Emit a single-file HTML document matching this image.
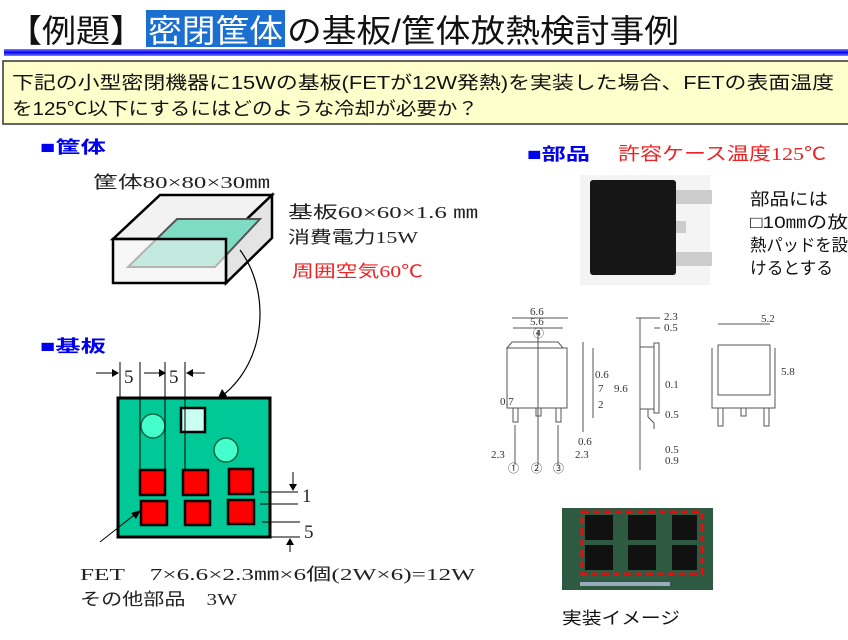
<!DOCTYPE html>
<html><head><meta charset="utf-8"><style>
html,body{margin:0;padding:0;background:#fff;}
svg{display:block;}
text{font-family:"Liberation Serif","Noto Sans CJK JP",serif;}
.g{font-family:"Liberation Sans","Noto Sans CJK JP",sans-serif;}
</style></head><body>
<svg width="848" height="640" viewBox="0 0 848 640" xmlns="http://www.w3.org/2000/svg">
<defs><linearGradient id="bl" x1="0" y1="0" x2="0" y2="1"><stop offset="0" stop-color="#8080ff"/><stop offset="0.5" stop-color="#0000ee"/><stop offset="1" stop-color="#8080ff"/></linearGradient></defs>
<!-- title -->
<rect x="146" y="10" width="139" height="37" fill="#1a6fd0"/>
<text x="8" y="42" class="g" font-size="32" fill="#111" textLength="136" lengthAdjust="spacingAndGlyphs">【例題】</text>
<text x="148" y="42" class="g" font-size="32" fill="#fff" textLength="135" lengthAdjust="spacingAndGlyphs">密閉筐体</text>
<text x="287" y="42" class="g" font-size="32" fill="#111" textLength="392" lengthAdjust="spacingAndGlyphs">の基板/筐体放熱検討事例</text>
<rect x="4" y="49" width="844" height="7" fill="url(#bl)"/>
<!-- question -->
<rect x="3" y="61" width="850" height="63" fill="#ffffcc" stroke="#333" stroke-width="1.5"/>
<text x="12" y="89" class="g" font-size="18" fill="#111" textLength="822" lengthAdjust="spacingAndGlyphs">下記の小型密閉機器に15Wの基板(FETが12W発熱)を実装した場合、FETの表面温度</text>
<text x="12" y="115" class="g" font-size="18" fill="#111" textLength="466" lengthAdjust="spacingAndGlyphs">を125℃以下にするにはどのような冷却が必要か？</text>
<!-- casing -->
<text x="40" y="153" class="g" font-size="17" font-weight="bold" fill="#0000ee" textLength="66" lengthAdjust="spacingAndGlyphs">■筐体</text>
<text x="93" y="188" font-size="17" fill="#222" textLength="177" lengthAdjust="spacingAndGlyphs">筐体80×80×30㎜</text>
<polygon points="113,239 160,195 272,195 226,239" fill="#f2f2f2" stroke="#000" stroke-width="2.5"/>
<polygon points="226,239 272,195 272,238 226,283" fill="#e4e4e4" stroke="#000" stroke-width="2.5"/>
<polygon points="128,267 177,219 260,219 215,267" fill="#7fdcc4" stroke="#555" stroke-width="2"/>
<rect x="113" y="239" width="113" height="44" fill="#f2f2f2" fill-opacity="0.6" stroke="#000" stroke-width="2.5"/>
<text x="288" y="218" font-size="17" fill="#222" textLength="190" lengthAdjust="spacingAndGlyphs">基板60×60×1.6 ㎜</text>
<text x="288" y="243" font-size="17" fill="#222" textLength="130" lengthAdjust="spacingAndGlyphs">消費電力15W</text>
<text x="292" y="277" font-size="17" fill="#ee2222" textLength="131" lengthAdjust="spacingAndGlyphs">周囲空気60℃</text>
<path d="M240,250 C270,290 268,360 222,396" fill="none" stroke="#000" stroke-width="1.2"/>
<polygon points="217,400 222,389 227,396" fill="#000"/>
<!-- pcb -->
<text x="40" y="352" class="g" font-size="17" font-weight="bold" fill="#0000ee" textLength="66" lengthAdjust="spacingAndGlyphs">■基板</text>
<rect x="118" y="398" width="152" height="139" fill="#00c896" stroke="#000" stroke-width="3"/>
<circle cx="153" cy="426" r="12" fill="#44ffcc" stroke="#116644" stroke-width="1.5"/>
<circle cx="226" cy="450" r="12" fill="#44ffcc" stroke="#116644" stroke-width="1.5"/>
<rect x="181" y="408" width="24" height="24" fill="#c8fff0" stroke="#000" stroke-width="2.5"/>
<g fill="#ff0000" stroke="#000" stroke-width="2.5">
<rect x="140" y="470" width="25" height="25"/><rect x="183" y="470" width="25" height="25"/><rect x="229" y="469" width="24" height="25"/>
<rect x="141" y="501" width="26" height="24"/><rect x="185" y="501" width="25" height="24"/><rect x="228" y="500" width="26" height="24"/>
</g>
<g stroke="#000" stroke-width="1" fill="none">
<line x1="120" y1="362" x2="120" y2="398"/><line x1="140" y1="362" x2="140" y2="470"/>
<line x1="165" y1="362" x2="165" y2="470"/><line x1="185" y1="362" x2="185" y2="470"/>
<line x1="96" y1="373" x2="115" y2="373"/><line x1="144" y1="373" x2="162" y2="373"/><line x1="190" y1="373" x2="205" y2="373"/>
<line x1="260" y1="492" x2="298" y2="492"/><line x1="260" y1="504" x2="298" y2="504"/><line x1="262" y1="522" x2="300" y2="522"/><line x1="270" y1="537" x2="300" y2="537"/>
<line x1="293" y1="472" x2="293" y2="488"/><line x1="290" y1="542" x2="290" y2="552"/>
<line x1="100" y1="542" x2="138" y2="512"/>
</g>
<g fill="#000"><polygon points="119,373 112,369 112,377"/><polygon points="166,373 159,369 159,377"/><polygon points="186,373 193,369 193,377"/>
<polygon points="293,491 289,484 297,484"/><polygon points="290,538 286,545 294,545"/><polygon points="141,510 131,513 136,519"/></g>
<text x="124" y="383" font-size="19" fill="#222">5</text><text x="169" y="383" font-size="19" fill="#222">5</text>
<text x="302" y="502" font-size="19" fill="#222">1</text><text x="304" y="538" font-size="19" fill="#222">5</text>
<text x="80" y="580" font-size="17" fill="#222" textLength="395" lengthAdjust="spacingAndGlyphs">FET　7×6.6×2.3㎜×6個(2W×6)=12W</text>
<text x="80" y="605" font-size="17" fill="#222" textLength="157" lengthAdjust="spacingAndGlyphs">その他部品　3W</text>
<!-- parts -->
<text x="527" y="160" class="g" font-size="17" font-weight="bold" fill="#0000ee" textLength="63" lengthAdjust="spacingAndGlyphs">■部品</text>
<text x="618" y="160" font-size="18" fill="#ee2222" textLength="208" lengthAdjust="spacingAndGlyphs">許容ケース温度125℃</text>
<rect x="580" y="175" width="130" height="110" fill="#f4f4f4"/>
<rect x="672" y="190" width="40" height="14" fill="#ccc"/><rect x="672" y="252" width="40" height="14" fill="#ccc"/><rect x="672" y="221" width="14" height="12" fill="#ccc"/>
<rect x="590" y="180" width="86" height="95" fill="#161616" rx="3"/>
<text x="750" y="205" class="g" font-size="17" fill="#111" textLength="78" lengthAdjust="spacingAndGlyphs">部品には</text>
<text x="750" y="228" class="g" font-size="17" fill="#111" textLength="98" lengthAdjust="spacingAndGlyphs">□10㎜の放</text>
<text x="750" y="251" class="g" font-size="17" fill="#111" textLength="98" lengthAdjust="spacingAndGlyphs">熱パッドを設</text>
<text x="750" y="274" class="g" font-size="17" fill="#111" textLength="83" lengthAdjust="spacingAndGlyphs">けるとする</text>
<!-- drawings -->
<g stroke="#555" stroke-width="1" fill="none">
<path d="M507,348 L512,342 L558,342 L563,348 Z"/><rect x="507" y="348" width="60" height="60"/>
<rect x="513" y="408" width="5" height="14"/><rect x="536" y="408" width="5" height="8"/><rect x="556" y="408" width="5" height="14"/>
<line x1="512" y1="318" x2="568" y2="318"/><line x1="513" y1="328" x2="563" y2="328"/><line x1="538" y1="330" x2="538" y2="465"/>
<line x1="515" y1="425" x2="515" y2="465"/><line x1="558" y1="425" x2="558" y2="465"/>
<line x1="583" y1="342" x2="583" y2="432"/><line x1="593" y1="348" x2="593" y2="418"/>
<rect x="640" y="347" width="14" height="62"/><rect x="654" y="343" width="5" height="70"/>
<path d="M648,409 l0,8 l6,6 l0,6"/>
<line x1="636" y1="318" x2="660" y2="318"/><line x1="654" y1="328" x2="660" y2="328"/><line x1="640" y1="318" x2="640" y2="470"/>
<path d="M712,348 L712,408 L775,408 L775,348"/><path d="M718,345 L770,345 L770,395 L718,395 Z"/>
<rect x="718" y="408" width="5" height="18"/><rect x="741" y="408" width="5" height="8"/><rect x="764" y="408" width="5" height="18"/>
<line x1="718" y1="324" x2="770" y2="324"/>
</g>
<g font-size="11" fill="#333">
<text x="530" y="315">6.6</text><text x="530" y="325">5.6</text><text x="533" y="337">④</text>
<text x="664" y="320">2.3</text><text x="664" y="331">0.5</text><text x="761" y="322">5.2</text>
<text x="595" y="378">0.6</text><text x="598" y="392">7</text><text x="614" y="392">9.6</text><text x="500" y="405">0.7</text><text x="598" y="408">2</text>
<text x="665" y="388">0.1</text><text x="665" y="418">0.5</text><text x="578" y="445">0.6</text>
<text x="491" y="458">2.3</text><text x="575" y="458">2.3</text><text x="665" y="453">0.5</text><text x="665" y="464">0.9</text>
<text x="508" y="472">①</text><text x="531" y="472">②</text><text x="553" y="472">③</text><text x="781" y="375">5.8</text>
</g>
<!-- photo -->
<rect x="562" y="508" width="151" height="82" fill="#2d5a40"/>
<g fill="#111"><rect x="585" y="515" width="28" height="25"/><rect x="585" y="545" width="28" height="25"/><rect x="628" y="515" width="28" height="25"/><rect x="628" y="545" width="28" height="25"/><rect x="672" y="515" width="25" height="25"/><rect x="672" y="545" width="25" height="25"/></g>
<rect x="582" y="512" width="120" height="62" fill="none" stroke="#e01010" stroke-width="3" stroke-dasharray="7,4"/>
<rect x="580" y="582" width="90" height="4" fill="#9ab"/>
<text x="562" y="624" class="g" font-size="17" fill="#111" textLength="118" lengthAdjust="spacingAndGlyphs">実装イメージ</text>
</svg>
</body></html>
